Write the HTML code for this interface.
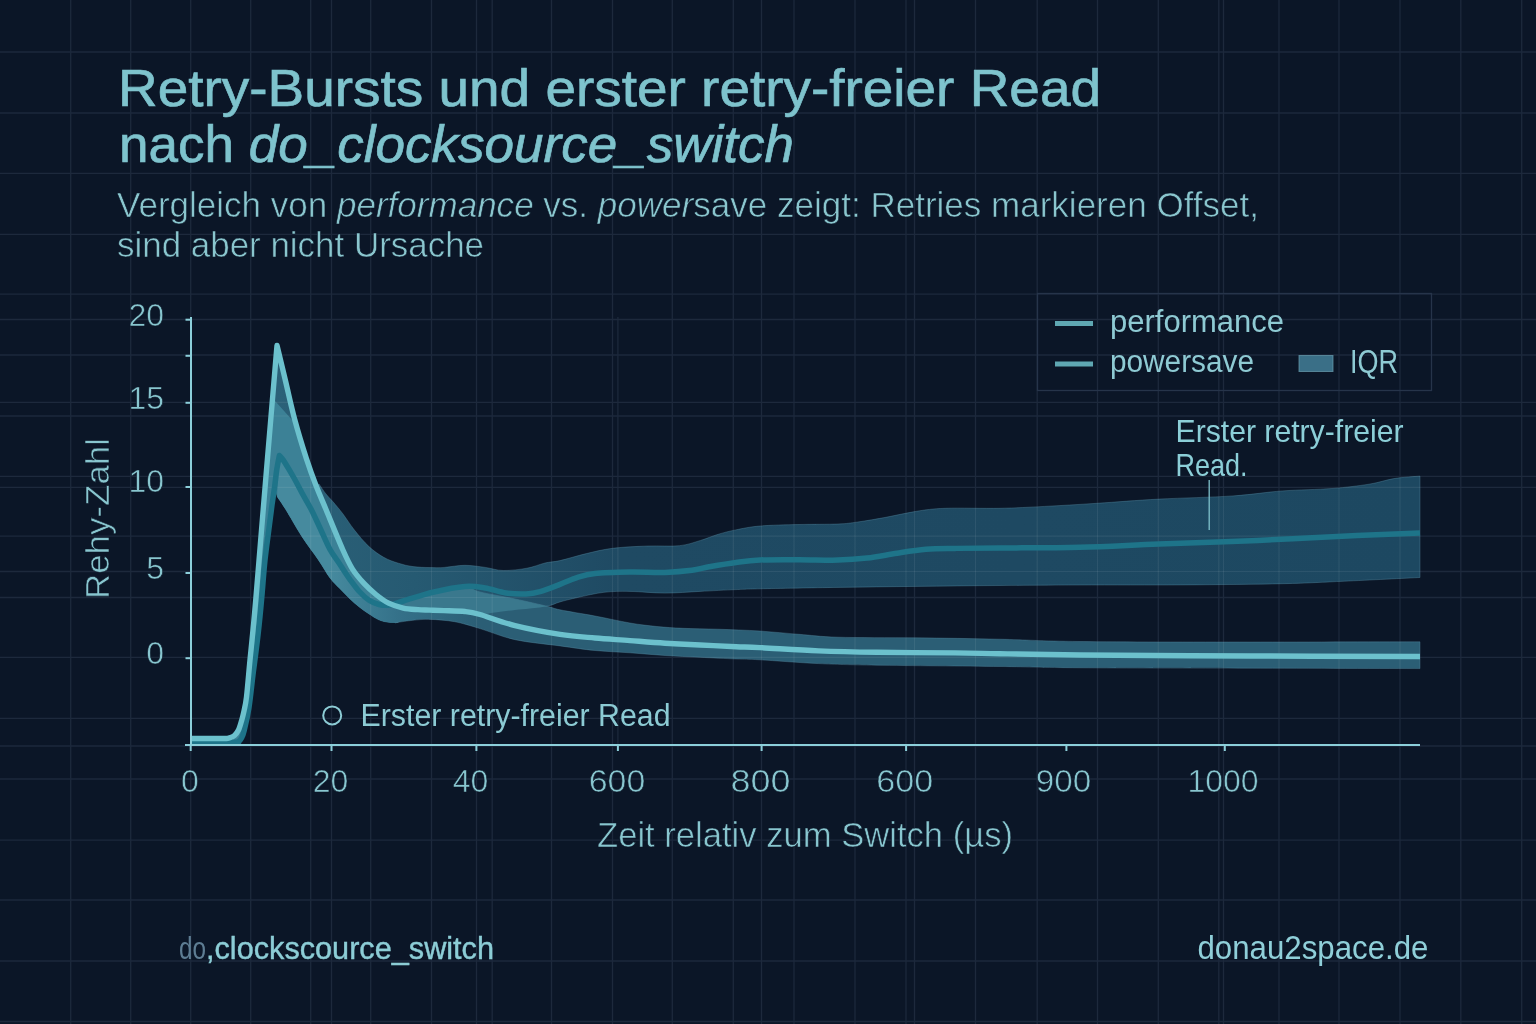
<!DOCTYPE html>
<html><head><meta charset="utf-8"><title>Retry-Bursts</title>
<style>
html,body{margin:0;padding:0;background:#0b1627;}
body{width:1536px;height:1024px;overflow:hidden;}
svg{display:block;}
text{font-family:"Liberation Sans","DejaVu Sans",sans-serif;}
</style></head>
<body>
<svg width="1536" height="1024" viewBox="0 0 1536 1024">
<rect width="1536" height="1024" fill="#0b1627"/>
<g stroke="#1d293c" stroke-width="1.3">
<line x1="70.7" y1="0" x2="70.7" y2="1024"/>
<line x1="130.7" y1="0" x2="130.7" y2="1024"/>
<line x1="190.7" y1="0" x2="190.7" y2="1024"/>
<line x1="250.7" y1="0" x2="250.7" y2="1024"/>
<line x1="310.7" y1="0" x2="310.7" y2="1024"/>
<line x1="370.7" y1="0" x2="370.7" y2="1024"/>
<line x1="431.5" y1="0" x2="431.5" y2="1024"/>
<line x1="492.2" y1="0" x2="492.2" y2="1024"/>
<line x1="551.5" y1="0" x2="551.5" y2="1024"/>
<line x1="612.5" y1="0" x2="612.5" y2="1024"/>
<line x1="672.3" y1="0" x2="672.3" y2="1024"/>
<line x1="733.3" y1="0" x2="733.3" y2="1024"/>
<line x1="794" y1="0" x2="794" y2="1024"/>
<line x1="855" y1="0" x2="855" y2="1024"/>
<line x1="914.5" y1="0" x2="914.5" y2="1024"/>
<line x1="975.5" y1="0" x2="975.5" y2="1024"/>
<line x1="1037.2" y1="0" x2="1037.2" y2="1024"/>
<line x1="1097.5" y1="0" x2="1097.5" y2="1024"/>
<line x1="1158.3" y1="0" x2="1158.3" y2="1024"/>
<line x1="1218.8" y1="0" x2="1218.8" y2="1024"/>
<line x1="1279" y1="0" x2="1279" y2="1024"/>
<line x1="1339" y1="0" x2="1339" y2="1024"/>
<line x1="1400" y1="0" x2="1400" y2="1024"/>
<line x1="1460.8" y1="0" x2="1460.8" y2="1024"/>
<line x1="1521.7" y1="0" x2="1521.7" y2="1024"/>
<line x1="0" y1="52" x2="1536" y2="52"/>
<line x1="0" y1="113" x2="1536" y2="113"/>
<line x1="0" y1="173.4" x2="1536" y2="173.4"/>
<line x1="0" y1="234.4" x2="1536" y2="234.4"/>
<line x1="0" y1="294.2" x2="1536" y2="294.2"/>
<line x1="0" y1="355" x2="1536" y2="355"/>
<line x1="0" y1="416" x2="1536" y2="416"/>
<line x1="0" y1="476.3" x2="1536" y2="476.3"/>
<line x1="0" y1="536.2" x2="1536" y2="536.2"/>
<line x1="0" y1="597.5" x2="1536" y2="597.5"/>
<line x1="0" y1="657.3" x2="1536" y2="657.3"/>
<line x1="0" y1="718.3" x2="1536" y2="718.3"/>
<line x1="0" y1="779" x2="1536" y2="779"/>
<line x1="0" y1="840.2" x2="1536" y2="840.2"/>
<line x1="0" y1="900" x2="1536" y2="900"/>
<line x1="0" y1="961" x2="1536" y2="961"/>
<line x1="0" y1="1021.5" x2="1536" y2="1021.5"/>
<line x1="331.5" y1="0" x2="331.5" y2="1024"/>
<line x1="476.5" y1="0" x2="476.5" y2="1024"/>
<line x1="761.5" y1="0" x2="761.5" y2="1024"/>
<line x1="906" y1="0" x2="906" y2="1024"/>
<line x1="1223.5" y1="0" x2="1223.5" y2="1024"/>
<line x1="617.9" y1="317" x2="617.9" y2="745"/>
<line x1="0" y1="319.5" x2="1536" y2="319.5"/>
<line x1="0" y1="402.3" x2="1536" y2="402.3"/>
<line x1="0" y1="487.4" x2="1536" y2="487.4"/>
<line x1="0" y1="571.5" x2="1536" y2="571.5"/>
<line x1="0" y1="746" x2="1536" y2="746"/>
</g>
<!-- legend box -->
<rect x="1037.5" y="293.5" width="394" height="97" fill="none" stroke="#26344a" stroke-width="1.3"/>
<!-- chart -->

<defs>
  <linearGradient id="ug" x1="277" y1="0" x2="1420" y2="0" gradientUnits="userSpaceOnUse">
    <stop offset="0" stop-color="#2b6178"/>
    <stop offset="0.12" stop-color="#265a72"/>
    <stop offset="0.3" stop-color="#1f4a63"/>
    <stop offset="1" stop-color="#1d4861"/>
  </linearGradient>
  <linearGradient id="lg" x1="395" y1="0" x2="480" y2="0" gradientUnits="userSpaceOnUse">
    <stop offset="0" stop-color="#35728a"/>
    <stop offset="1" stop-color="#2b5e75"/>
  </linearGradient>
  <linearGradient id="dg" x1="330" y1="0" x2="396" y2="0" gradientUnits="userSpaceOnUse">
    <stop offset="0" stop-color="#468a9e"/>
    <stop offset="1" stop-color="#35728a"/>
  </linearGradient>
</defs>
<path d="M277.0,345.5 C278.5,351.8 283.1,370.7 286.0,383.0 C288.9,395.3 291.3,406.9 294.7,419.5 C298.1,432.1 302.8,447.5 306.4,458.6 C310.0,469.7 314.6,481.4 316.2,486.0 L319.0,484.0 C320.2,485.7 323.6,491.0 326.0,494.0 C328.4,497.0 330.4,498.7 333.2,502.0 C336.0,505.3 339.5,509.3 343.0,514.0 C346.5,518.7 350.1,524.6 354.4,530.0 C358.7,535.4 364.1,542.1 369.0,546.6 C373.9,551.1 378.8,554.5 383.7,557.3 C388.6,560.1 393.5,561.7 398.4,563.2 C403.3,564.8 407.7,565.9 413.0,566.6 C418.3,567.3 424.8,567.5 430.0,567.6 C435.2,567.7 438.5,567.8 444.3,567.4 C450.1,567.0 458.0,565.3 464.8,565.3 C471.6,565.3 478.9,566.5 485.3,567.4 C491.7,568.3 496.5,570.4 503.4,570.5 C510.3,570.6 520.0,569.5 526.9,568.2 C533.8,567.0 539.5,564.3 545.0,563.0 C550.5,561.7 553.1,562.2 560.0,560.6 C566.9,559.0 577.6,555.7 586.4,553.6 C595.2,551.5 602.4,549.6 612.7,548.3 C623.0,547.0 636.9,546.4 648.0,546.0 C659.1,545.6 670.7,546.6 679.5,545.7 C688.3,544.8 694.1,542.3 700.6,540.4 C707.1,538.5 712.4,536.0 718.2,534.3 C724.1,532.5 728.7,531.3 735.7,529.9 C742.7,528.5 749.5,526.9 760.0,526.0 C770.5,525.1 786.0,524.8 799.0,524.5 C812.0,524.2 828.2,524.4 838.0,524.0 C847.8,523.6 849.5,523.1 857.7,522.0 C865.9,520.9 877.2,518.9 887.0,517.1 C896.8,515.3 906.5,512.8 916.3,511.3 C926.0,509.8 931.5,508.8 945.5,508.3 C959.5,507.8 983.5,508.6 1000.0,508.3 C1016.5,508.0 1028.4,507.2 1044.6,506.4 C1060.8,505.6 1077.9,504.5 1097.0,503.3 C1116.1,502.1 1136.3,500.3 1159.0,499.1 C1181.7,497.9 1212.4,497.3 1233.0,495.9 C1253.6,494.5 1266.2,492.1 1282.7,490.9 C1299.2,489.7 1317.6,489.6 1332.0,488.5 C1346.4,487.4 1358.7,485.8 1369.0,484.2 C1379.3,482.6 1385.5,480.0 1394.0,478.6 C1402.5,477.2 1415.7,476.5 1420.0,476.1 L1420.0,577.5 L1420.0,577.5 C1407.4,578.1 1367.3,580.2 1344.5,581.2 C1321.7,582.2 1309.8,583.1 1283.0,583.7 C1256.2,584.3 1217.8,584.7 1184.0,584.9 C1150.2,585.1 1110.7,584.9 1080.0,585.0 C1049.3,585.1 1027.3,585.3 1000.0,585.5 C972.7,585.7 943.0,586.1 916.0,586.4 C889.0,586.7 864.0,587.0 838.0,587.4 C812.0,587.8 777.0,588.4 760.0,588.8 C743.0,589.2 746.0,589.2 736.0,589.6 C726.0,590.0 711.8,590.8 700.0,591.4 C688.2,592.0 676.7,593.1 665.0,593.1 C653.3,593.1 640.2,591.5 630.0,591.4 C619.8,591.3 612.7,591.3 604.0,592.3 C595.3,593.3 584.9,595.9 577.6,597.5 C570.3,599.1 564.9,600.5 560.0,601.9 C555.1,603.3 553.0,604.9 548.0,606.0 C543.0,607.1 535.5,608.0 530.0,608.5 C524.5,609.0 523.3,608.9 515.0,609.0 C506.7,609.1 490.0,609.3 480.0,609.0 C470.0,608.7 463.3,607.7 455.0,607.0 C446.7,606.3 438.3,605.4 430.0,605.0 C421.7,604.6 410.8,604.7 405.0,604.5 C399.2,604.3 396.7,604.1 395.0,604.0 L395.0,622.8 L398.4,622.3 C396.8,622.3 391.9,622.7 388.6,622.3 C385.3,621.9 382.1,621.2 378.8,619.8 C375.6,618.4 372.4,616.1 369.1,614.0 C365.9,611.9 362.6,609.7 359.3,607.1 C356.0,604.5 352.8,601.5 349.5,598.4 C346.2,595.3 343.1,592.0 339.8,588.6 C336.6,585.2 333.6,582.8 330.0,578.0 C326.4,573.2 323.1,566.8 318.4,559.9 C313.7,553.0 307.5,545.1 302.0,536.7 C296.5,528.3 289.7,515.9 285.6,509.3 C281.5,502.7 278.8,499.1 277.4,497.0 L277.4,497.0 C276.9,495.3 275.1,488.7 274.6,487.0 L274.6,487.0 C274.2,490.0 273.0,497.8 272.0,505.0 C271.0,512.2 270.0,520.8 268.8,530.0 C267.6,539.2 266.2,548.8 265.0,560.0 C263.8,571.2 262.9,584.7 261.8,597.1 C260.7,609.5 259.5,621.9 258.1,634.3 C256.7,646.7 255.0,659.0 253.4,671.4 C251.8,683.8 250.4,698.6 248.8,708.5 C247.2,718.4 245.3,725.9 244.1,730.8 C242.9,735.7 242.4,736.2 241.5,738.0 C240.6,739.8 239.0,740.9 238.5,741.5 L232.0,741.0 L238.5,730.0 C239.0,728.5 240.6,724.2 241.5,721.0 C242.4,717.8 243.2,715.0 244.0,711.0 C244.8,707.0 245.5,705.5 246.5,697.0 C247.5,688.5 248.9,671.2 250.0,660.0 C251.1,648.8 252.0,640.5 253.0,630.0 C254.0,619.5 253.8,622.7 256.0,597.0 C258.2,571.3 262.5,517.9 266.0,476.0 C269.5,434.1 275.2,367.2 277.0,345.5 Z" fill="url(#ug)" stroke="#5d93a8" stroke-opacity="0.35" stroke-width="1"/>
<path d="M395.0,603.2 C396.4,602.8 396.8,602.9 403.3,601.0 C409.8,599.1 423.7,594.4 434.0,592.0 C444.3,589.6 459.8,587.4 465.0,586.5 L465.0,586.5 C467.5,587.4 471.7,589.9 480.0,592.0 C488.3,594.1 503.7,596.6 515.0,599.0 C526.3,601.4 540.5,604.7 548.0,606.5 C555.5,608.3 552.2,608.2 560.0,609.8 C567.8,611.4 583.3,613.8 595.0,616.0 C606.7,618.2 619.7,621.2 630.0,623.0 C640.3,624.8 648.2,625.6 657.0,626.5 C665.8,627.4 672.8,627.8 683.0,628.3 C693.2,628.8 705.2,628.8 718.0,629.2 C730.8,629.7 746.5,630.1 760.0,631.0 C773.5,631.9 786.0,633.3 799.0,634.3 C812.0,635.3 818.5,636.6 838.0,637.2 C857.5,637.8 889.0,637.5 916.0,637.8 C943.0,638.1 972.7,638.6 1000.0,639.2 C1027.3,639.8 1038.3,641.0 1080.0,641.5 C1121.7,642.0 1193.3,642.0 1250.0,642.0 C1306.7,642.0 1391.7,641.8 1420.0,641.8 L1420.0,668.6 L1420.0,668.6 C1391.7,668.5 1306.7,668.3 1250.0,668.2 C1193.3,668.1 1121.7,668.1 1080.0,667.8 C1038.3,667.5 1033.8,666.9 1000.0,666.5 C966.2,666.1 907.2,665.7 877.0,665.2 C846.8,664.7 838.1,664.5 818.6,663.6 C799.1,662.7 773.8,660.6 760.0,659.8 C746.2,659.0 746.0,659.4 736.0,659.0 C726.0,658.6 711.8,657.9 700.0,657.3 C688.2,656.7 676.7,656.2 665.0,655.5 C653.3,654.8 641.7,653.6 630.0,652.8 C618.3,652.0 606.7,651.6 595.0,650.5 C583.3,649.4 573.3,647.7 560.0,645.9 C546.7,644.1 528.3,642.6 515.0,639.7 C501.7,636.8 490.1,631.6 480.0,628.6 C469.9,625.6 462.8,623.2 454.5,621.7 C446.2,620.2 436.9,619.6 430.0,619.4 C423.1,619.2 418.3,619.8 413.0,620.3 C407.7,620.8 401.4,621.9 398.4,622.3 C395.4,622.7 395.6,622.7 395.0,622.8 Z" fill="url(#lg)" stroke="#5d93a8" stroke-opacity="0.35" stroke-width="1"/>
<path d="M392.0,604.5 C393.9,603.9 396.3,603.1 403.3,601.0 C410.3,598.9 423.7,594.4 434.0,592.0 C444.3,589.6 457.3,586.5 465.0,586.5 C472.7,586.5 471.7,589.9 480.0,592.0 C488.3,594.1 503.7,596.6 515.0,599.0 C526.3,601.4 542.5,605.2 548.0,606.5 L548.0,606.5 C545.0,606.8 535.5,607.9 530.0,608.5 C524.5,609.1 520.8,609.3 515.0,610.0 C509.2,610.7 500.8,611.8 495.0,612.5 C489.2,613.2 485.0,614.7 480.0,614.5 C475.0,614.3 471.0,612.1 465.0,611.5 C459.0,610.9 449.8,610.8 444.0,610.6 C438.2,610.4 434.4,610.3 430.0,610.1 C425.6,609.9 422.4,609.9 417.9,609.6 C413.4,609.3 407.5,609.0 403.2,608.1 C398.9,607.2 393.9,605.1 392.0,604.5 Z" fill="#3a788d"/>
<path d="M271.5,397.0 L298.0,426.5 L298.0,426.5 C299.4,431.9 303.4,448.7 306.4,458.6 C309.4,468.5 312.9,477.5 316.2,486.0 C319.5,494.5 321.6,498.9 326.0,509.5 C330.4,520.1 338.3,539.6 342.7,549.5 C347.1,559.4 348.9,563.4 352.5,569.1 C356.1,574.8 360.3,579.5 364.2,583.7 C368.1,587.9 371.8,591.2 375.9,594.5 C380.0,597.8 385.4,601.6 388.6,603.2 C391.8,604.8 393.9,603.9 395.0,604.0 L395.0,622.8 L398.4,622.3 C396.8,622.3 391.9,622.7 388.6,622.3 C385.3,621.9 382.1,621.2 378.8,619.8 C375.6,618.4 372.4,616.1 369.1,614.0 C365.9,611.9 362.6,609.7 359.3,607.1 C356.0,604.5 352.8,601.5 349.5,598.4 C346.2,595.3 343.1,592.0 339.8,588.6 C336.6,585.2 333.6,582.8 330.0,578.0 C326.4,573.2 323.1,566.8 318.4,559.9 C313.7,553.0 307.5,545.1 302.0,536.7 C296.5,528.3 289.7,515.9 285.6,509.3 C281.5,502.7 278.8,499.1 277.4,497.0 L277.4,497.0 C276.9,495.3 275.1,488.7 274.6,487.0 L274.6,487.0 C274.2,490.0 273.0,497.8 272.0,505.0 C271.0,512.2 270.0,520.8 268.8,530.0 C267.6,539.2 266.2,548.8 265.0,560.0 C263.8,571.2 262.9,584.7 261.8,597.1 C260.7,609.5 259.5,621.9 258.1,634.3 C256.7,646.7 255.0,659.0 253.4,671.4 C251.8,683.8 250.4,698.6 248.8,708.5 C247.2,718.4 245.3,725.9 244.1,730.8 C242.9,735.7 242.4,736.2 241.5,738.0 C240.6,739.8 239.0,740.9 238.5,741.5 L232.0,741.0 L238.5,730.0 C239.0,728.5 240.6,724.2 241.5,721.0 C242.4,717.8 243.2,715.0 244.0,711.0 C244.8,707.0 245.5,705.5 246.5,697.0 C247.5,688.5 248.9,671.2 250.0,660.0 C251.1,648.8 252.0,640.5 253.0,630.0 C254.0,619.5 253.8,622.7 256.0,597.0 C258.2,571.3 263.4,509.3 266.0,476.0 C268.6,442.7 270.6,410.2 271.5,397.0 Z" fill="#3c8196"/>
<path d="M279.4,455.5 C280.2,456.6 282.1,458.2 284.5,462.0 C286.9,465.8 291.1,472.8 294.0,478.0 C296.9,483.2 299.2,487.8 302.0,493.0 C304.8,498.2 308.0,503.2 311.0,509.0 C314.0,514.8 316.8,521.2 320.0,528.0 C323.2,534.8 326.7,543.5 330.0,549.5 C333.3,555.5 336.6,559.3 339.8,564.2 C343.1,569.1 346.2,574.2 349.5,578.8 C352.8,583.3 356.0,587.9 359.3,591.5 C362.6,595.1 365.8,598.1 369.1,600.3 C372.4,602.5 375.5,603.7 379.0,604.5 C382.5,605.3 387.2,605.0 390.0,605.0 C392.8,605.0 395.0,604.7 396.0,604.6 L396.0,622.6 L388.6,622.3 C387.0,621.9 382.1,621.2 378.8,619.8 C375.6,618.4 372.4,616.1 369.1,614.0 C365.9,611.9 362.6,609.7 359.3,607.1 C356.0,604.5 352.8,601.5 349.5,598.4 C346.2,595.3 343.1,592.0 339.8,588.6 C336.6,585.2 333.6,582.8 330.0,578.0 C326.4,573.2 323.1,566.8 318.4,559.9 C313.7,553.0 307.5,545.1 302.0,536.7 C296.5,528.3 289.7,515.9 285.6,509.3 C281.5,502.7 278.8,499.1 277.4,497.0 L278.5,470.0 Z" fill="url(#dg)"/>
<clipPath id="bandclip"><path d="M277.0,345.5 C278.5,351.8 283.1,370.7 286.0,383.0 C288.9,395.3 291.3,406.9 294.7,419.5 C298.1,432.1 302.8,447.5 306.4,458.6 C310.0,469.7 314.6,481.4 316.2,486.0 L319.0,484.0 C320.2,485.7 323.6,491.0 326.0,494.0 C328.4,497.0 330.4,498.7 333.2,502.0 C336.0,505.3 339.5,509.3 343.0,514.0 C346.5,518.7 350.1,524.6 354.4,530.0 C358.7,535.4 364.1,542.1 369.0,546.6 C373.9,551.1 378.8,554.5 383.7,557.3 C388.6,560.1 393.5,561.7 398.4,563.2 C403.3,564.8 407.7,565.9 413.0,566.6 C418.3,567.3 424.8,567.5 430.0,567.6 C435.2,567.7 438.5,567.8 444.3,567.4 C450.1,567.0 458.0,565.3 464.8,565.3 C471.6,565.3 478.9,566.5 485.3,567.4 C491.7,568.3 496.5,570.4 503.4,570.5 C510.3,570.6 520.0,569.5 526.9,568.2 C533.8,567.0 539.5,564.3 545.0,563.0 C550.5,561.7 553.1,562.2 560.0,560.6 C566.9,559.0 577.6,555.7 586.4,553.6 C595.2,551.5 602.4,549.6 612.7,548.3 C623.0,547.0 636.9,546.4 648.0,546.0 C659.1,545.6 670.7,546.6 679.5,545.7 C688.3,544.8 694.1,542.3 700.6,540.4 C707.1,538.5 712.4,536.0 718.2,534.3 C724.1,532.5 728.7,531.3 735.7,529.9 C742.7,528.5 749.5,526.9 760.0,526.0 C770.5,525.1 786.0,524.8 799.0,524.5 C812.0,524.2 828.2,524.4 838.0,524.0 C847.8,523.6 849.5,523.1 857.7,522.0 C865.9,520.9 877.2,518.9 887.0,517.1 C896.8,515.3 906.5,512.8 916.3,511.3 C926.0,509.8 931.5,508.8 945.5,508.3 C959.5,507.8 983.5,508.6 1000.0,508.3 C1016.5,508.0 1028.4,507.2 1044.6,506.4 C1060.8,505.6 1077.9,504.5 1097.0,503.3 C1116.1,502.1 1136.3,500.3 1159.0,499.1 C1181.7,497.9 1212.4,497.3 1233.0,495.9 C1253.6,494.5 1266.2,492.1 1282.7,490.9 C1299.2,489.7 1317.6,489.6 1332.0,488.5 C1346.4,487.4 1358.7,485.8 1369.0,484.2 C1379.3,482.6 1385.5,480.0 1394.0,478.6 C1402.5,477.2 1415.7,476.5 1420.0,476.1 L1420.0,577.5 L1420.0,577.5 C1407.4,578.1 1367.3,580.2 1344.5,581.2 C1321.7,582.2 1309.8,583.1 1283.0,583.7 C1256.2,584.3 1217.8,584.7 1184.0,584.9 C1150.2,585.1 1110.7,584.9 1080.0,585.0 C1049.3,585.1 1027.3,585.3 1000.0,585.5 C972.7,585.7 943.0,586.1 916.0,586.4 C889.0,586.7 864.0,587.0 838.0,587.4 C812.0,587.8 777.0,588.4 760.0,588.8 C743.0,589.2 746.0,589.2 736.0,589.6 C726.0,590.0 711.8,590.8 700.0,591.4 C688.2,592.0 676.7,593.1 665.0,593.1 C653.3,593.1 640.2,591.5 630.0,591.4 C619.8,591.3 612.7,591.3 604.0,592.3 C595.3,593.3 584.9,595.9 577.6,597.5 C570.3,599.1 564.9,600.5 560.0,601.9 C555.1,603.3 553.0,604.9 548.0,606.0 C543.0,607.1 535.5,608.0 530.0,608.5 C524.5,609.0 523.3,608.9 515.0,609.0 C506.7,609.1 490.0,609.3 480.0,609.0 C470.0,608.7 463.3,607.7 455.0,607.0 C446.7,606.3 438.3,605.4 430.0,605.0 C421.7,604.6 410.8,604.7 405.0,604.5 C399.2,604.3 396.7,604.1 395.0,604.0 L395.0,622.8 L398.4,622.3 C396.8,622.3 391.9,622.7 388.6,622.3 C385.3,621.9 382.1,621.2 378.8,619.8 C375.6,618.4 372.4,616.1 369.1,614.0 C365.9,611.9 362.6,609.7 359.3,607.1 C356.0,604.5 352.8,601.5 349.5,598.4 C346.2,595.3 343.1,592.0 339.8,588.6 C336.6,585.2 333.6,582.8 330.0,578.0 C326.4,573.2 323.1,566.8 318.4,559.9 C313.7,553.0 307.5,545.1 302.0,536.7 C296.5,528.3 289.7,515.9 285.6,509.3 C281.5,502.7 278.8,499.1 277.4,497.0 L277.4,497.0 C276.9,495.3 275.1,488.7 274.6,487.0 L274.6,487.0 C274.2,490.0 273.0,497.8 272.0,505.0 C271.0,512.2 270.0,520.8 268.8,530.0 C267.6,539.2 266.2,548.8 265.0,560.0 C263.8,571.2 262.9,584.7 261.8,597.1 C260.7,609.5 259.5,621.9 258.1,634.3 C256.7,646.7 255.0,659.0 253.4,671.4 C251.8,683.8 250.4,698.6 248.8,708.5 C247.2,718.4 245.3,725.9 244.1,730.8 C242.9,735.7 242.4,736.2 241.5,738.0 C240.6,739.8 239.0,740.9 238.5,741.5 L232.0,741.0 L238.5,730.0 C239.0,728.5 240.6,724.2 241.5,721.0 C242.4,717.8 243.2,715.0 244.0,711.0 C244.8,707.0 245.5,705.5 246.5,697.0 C247.5,688.5 248.9,671.2 250.0,660.0 C251.1,648.8 252.0,640.5 253.0,630.0 C254.0,619.5 253.8,622.7 256.0,597.0 C258.2,571.3 262.5,517.9 266.0,476.0 C269.5,434.1 275.2,367.2 277.0,345.5 Z"/><path d="M395.0,603.2 C396.4,602.8 396.8,602.9 403.3,601.0 C409.8,599.1 423.7,594.4 434.0,592.0 C444.3,589.6 459.8,587.4 465.0,586.5 L465.0,586.5 C467.5,587.4 471.7,589.9 480.0,592.0 C488.3,594.1 503.7,596.6 515.0,599.0 C526.3,601.4 540.5,604.7 548.0,606.5 C555.5,608.3 552.2,608.2 560.0,609.8 C567.8,611.4 583.3,613.8 595.0,616.0 C606.7,618.2 619.7,621.2 630.0,623.0 C640.3,624.8 648.2,625.6 657.0,626.5 C665.8,627.4 672.8,627.8 683.0,628.3 C693.2,628.8 705.2,628.8 718.0,629.2 C730.8,629.7 746.5,630.1 760.0,631.0 C773.5,631.9 786.0,633.3 799.0,634.3 C812.0,635.3 818.5,636.6 838.0,637.2 C857.5,637.8 889.0,637.5 916.0,637.8 C943.0,638.1 972.7,638.6 1000.0,639.2 C1027.3,639.8 1038.3,641.0 1080.0,641.5 C1121.7,642.0 1193.3,642.0 1250.0,642.0 C1306.7,642.0 1391.7,641.8 1420.0,641.8 L1420.0,668.6 L1420.0,668.6 C1391.7,668.5 1306.7,668.3 1250.0,668.2 C1193.3,668.1 1121.7,668.1 1080.0,667.8 C1038.3,667.5 1033.8,666.9 1000.0,666.5 C966.2,666.1 907.2,665.7 877.0,665.2 C846.8,664.7 838.1,664.5 818.6,663.6 C799.1,662.7 773.8,660.6 760.0,659.8 C746.2,659.0 746.0,659.4 736.0,659.0 C726.0,658.6 711.8,657.9 700.0,657.3 C688.2,656.7 676.7,656.2 665.0,655.5 C653.3,654.8 641.7,653.6 630.0,652.8 C618.3,652.0 606.7,651.6 595.0,650.5 C583.3,649.4 573.3,647.7 560.0,645.9 C546.7,644.1 528.3,642.6 515.0,639.7 C501.7,636.8 490.1,631.6 480.0,628.6 C469.9,625.6 462.8,623.2 454.5,621.7 C446.2,620.2 436.9,619.6 430.0,619.4 C423.1,619.2 418.3,619.8 413.0,620.3 C407.7,620.8 401.4,621.9 398.4,622.3 C395.4,622.7 395.6,622.7 395.0,622.8 Z"/></clipPath>
<g clip-path="url(#bandclip)" stroke="#ffffff" stroke-opacity="0.07" stroke-width="1.2">
<line x1="70.7" y1="0" x2="70.7" y2="1024"/>
<line x1="130.7" y1="0" x2="130.7" y2="1024"/>
<line x1="190.7" y1="0" x2="190.7" y2="1024"/>
<line x1="250.7" y1="0" x2="250.7" y2="1024"/>
<line x1="310.7" y1="0" x2="310.7" y2="1024"/>
<line x1="370.7" y1="0" x2="370.7" y2="1024"/>
<line x1="431.5" y1="0" x2="431.5" y2="1024"/>
<line x1="492.2" y1="0" x2="492.2" y2="1024"/>
<line x1="551.5" y1="0" x2="551.5" y2="1024"/>
<line x1="612.5" y1="0" x2="612.5" y2="1024"/>
<line x1="672.3" y1="0" x2="672.3" y2="1024"/>
<line x1="733.3" y1="0" x2="733.3" y2="1024"/>
<line x1="794" y1="0" x2="794" y2="1024"/>
<line x1="855" y1="0" x2="855" y2="1024"/>
<line x1="914.5" y1="0" x2="914.5" y2="1024"/>
<line x1="975.5" y1="0" x2="975.5" y2="1024"/>
<line x1="1037.2" y1="0" x2="1037.2" y2="1024"/>
<line x1="1097.5" y1="0" x2="1097.5" y2="1024"/>
<line x1="1158.3" y1="0" x2="1158.3" y2="1024"/>
<line x1="1218.8" y1="0" x2="1218.8" y2="1024"/>
<line x1="1279" y1="0" x2="1279" y2="1024"/>
<line x1="1339" y1="0" x2="1339" y2="1024"/>
<line x1="1400" y1="0" x2="1400" y2="1024"/>
<line x1="1460.8" y1="0" x2="1460.8" y2="1024"/>
<line x1="1521.7" y1="0" x2="1521.7" y2="1024"/>
<line x1="0" y1="52" x2="1536" y2="52"/>
<line x1="0" y1="113" x2="1536" y2="113"/>
<line x1="0" y1="173.4" x2="1536" y2="173.4"/>
<line x1="0" y1="234.4" x2="1536" y2="234.4"/>
<line x1="0" y1="294.2" x2="1536" y2="294.2"/>
<line x1="0" y1="355" x2="1536" y2="355"/>
<line x1="0" y1="416" x2="1536" y2="416"/>
<line x1="0" y1="476.3" x2="1536" y2="476.3"/>
<line x1="0" y1="536.2" x2="1536" y2="536.2"/>
<line x1="0" y1="597.5" x2="1536" y2="597.5"/>
<line x1="0" y1="657.3" x2="1536" y2="657.3"/>
<line x1="0" y1="718.3" x2="1536" y2="718.3"/>
<line x1="0" y1="779" x2="1536" y2="779"/>
<line x1="0" y1="840.2" x2="1536" y2="840.2"/>
<line x1="0" y1="900" x2="1536" y2="900"/>
<line x1="0" y1="961" x2="1536" y2="961"/>
<line x1="0" y1="1021.5" x2="1536" y2="1021.5"/>
<line x1="331.5" y1="0" x2="331.5" y2="1024"/>
<line x1="476.5" y1="0" x2="476.5" y2="1024"/>
<line x1="761.5" y1="0" x2="761.5" y2="1024"/>
<line x1="906" y1="0" x2="906" y2="1024"/>
<line x1="1223.5" y1="0" x2="1223.5" y2="1024"/>
<line x1="617.9" y1="317" x2="617.9" y2="745"/>
<line x1="0" y1="319.5" x2="1536" y2="319.5"/>
<line x1="0" y1="402.3" x2="1536" y2="402.3"/>
<line x1="0" y1="487.4" x2="1536" y2="487.4"/>
<line x1="0" y1="571.5" x2="1536" y2="571.5"/>
<line x1="0" y1="746" x2="1536" y2="746"/>
</g>
<path d="M191.0,742.3 C198.2,742.3 226.1,742.4 234.0,742.3 C241.9,742.2 237.2,742.2 238.5,741.5 C239.8,740.8 240.6,739.8 241.5,738.0 C242.4,736.2 242.9,735.7 244.1,730.8 C245.3,725.9 247.2,718.4 248.8,708.5 C250.4,698.6 251.8,683.8 253.4,671.4 C255.0,659.0 256.7,646.7 258.1,634.3 C259.5,621.9 260.7,609.5 261.8,597.1 C262.9,584.7 263.8,571.2 265.0,560.0 C266.2,548.8 267.6,539.2 268.8,530.0 C270.0,520.8 271.0,512.2 272.0,505.0 C273.0,497.8 273.8,492.8 274.6,487.0 C275.4,481.2 275.9,475.2 276.7,470.0 C277.5,464.8 278.9,457.9 279.4,455.5 L279.4,455.5 C280.2,456.6 282.1,458.2 284.5,462.0 C286.9,465.8 291.1,472.8 294.0,478.0 C296.9,483.2 299.2,487.8 302.0,493.0 C304.8,498.2 308.0,503.2 311.0,509.0 C314.0,514.8 316.8,521.2 320.0,528.0 C323.2,534.8 326.7,543.5 330.0,549.5 C333.3,555.5 336.6,559.3 339.8,564.2 C343.1,569.1 346.2,574.2 349.5,578.8 C352.8,583.3 356.0,587.9 359.3,591.5 C362.6,595.1 365.8,598.1 369.1,600.3 C372.4,602.5 375.5,603.7 379.0,604.5 C382.5,605.3 385.9,605.6 390.0,605.0 C394.1,604.4 396.0,603.2 403.3,601.0 C410.6,598.8 423.7,594.4 434.0,592.0 C444.3,589.6 456.5,587.2 465.0,586.5 C473.5,585.8 478.2,586.9 485.0,588.0 C491.8,589.1 499.2,592.0 506.0,593.0 C512.8,594.0 520.3,594.2 526.0,594.0 C531.7,593.8 534.3,593.3 540.0,591.7 C545.7,590.1 553.7,586.8 560.0,584.4 C566.3,582.0 571.8,579.1 577.6,577.3 C583.4,575.5 586.3,574.4 595.0,573.5 C603.7,572.6 618.3,572.3 630.0,572.1 C641.7,571.9 654.7,572.7 665.0,572.4 C675.3,572.1 684.7,571.2 692.0,570.3 C699.3,569.4 701.7,568.1 709.0,566.8 C716.3,565.5 727.5,563.5 736.0,562.4 C744.5,561.3 749.5,560.5 760.0,560.0 C770.5,559.5 786.0,559.7 799.0,559.7 C812.0,559.7 826.7,560.4 838.0,560.1 C849.3,559.8 857.2,559.2 867.0,558.1 C876.8,557.0 887.2,554.7 897.0,553.2 C906.8,551.7 916.3,550.1 926.0,549.3 C935.7,548.5 942.7,548.6 955.0,548.4 C967.3,548.2 979.2,548.2 1000.0,548.0 C1020.8,547.8 1053.5,547.9 1080.0,547.2 C1106.5,546.6 1129.3,545.2 1159.0,544.1 C1188.7,543.0 1225.0,541.8 1258.0,540.4 C1291.0,539.0 1330.0,536.7 1357.0,535.5 C1384.0,534.3 1409.5,533.4 1420.0,533.0" fill="none" stroke="#1e7489" stroke-width="5.5" stroke-linejoin="round" stroke-linecap="butt"/>
<path d="M191.0,738.5 C196.2,738.5 215.6,738.6 222.0,738.5 C228.4,738.4 227.4,738.3 229.5,737.8 C231.6,737.3 233.0,736.8 234.5,735.5 C236.0,734.2 237.3,732.4 238.5,730.0 C239.7,727.6 240.6,724.2 241.5,721.0 C242.4,717.8 243.2,715.0 244.0,711.0 C244.8,707.0 245.5,705.5 246.5,697.0 C247.5,688.5 248.9,671.2 250.0,660.0 C251.1,648.8 252.0,640.5 253.0,630.0 C254.0,619.5 253.8,622.7 256.0,597.0 C258.2,571.3 262.5,517.9 266.0,476.0 C269.5,434.1 275.2,367.2 277.0,345.5 L277.0,345.5 C278.5,351.8 283.1,370.7 286.0,383.0 C288.9,395.3 291.3,406.9 294.7,419.5 C298.1,432.1 302.8,447.5 306.4,458.6 C310.0,469.7 312.9,477.5 316.2,486.0 C319.5,494.5 321.6,498.9 326.0,509.5 C330.4,520.1 338.3,539.6 342.7,549.5 C347.1,559.4 348.9,563.4 352.5,569.1 C356.1,574.8 360.3,579.5 364.2,583.7 C368.1,587.9 371.8,591.2 375.9,594.5 C380.0,597.8 384.1,600.9 388.6,603.2 C393.2,605.5 398.3,607.0 403.2,608.1 C408.1,609.2 413.4,609.3 417.9,609.6 C422.4,609.9 425.6,609.9 430.0,610.1 C434.4,610.3 438.2,610.4 444.0,610.6 C449.8,610.8 459.0,610.9 465.0,611.5 C471.0,612.1 471.7,612.1 480.0,614.5 C488.3,616.9 501.7,622.3 515.0,625.6 C528.3,628.9 546.7,632.3 560.0,634.4 C573.3,636.5 583.3,637.0 595.0,638.0 C606.7,639.0 618.3,639.7 630.0,640.6 C641.7,641.5 653.3,642.5 665.0,643.2 C676.7,643.9 688.2,644.4 700.0,645.0 C711.8,645.6 726.0,646.3 736.0,646.7 C746.0,647.1 746.2,646.9 760.0,647.6 C773.8,648.3 799.1,650.1 818.6,650.9 C838.1,651.7 854.3,652.0 877.0,652.3 C899.7,652.6 934.5,652.6 955.0,652.9 C975.5,653.1 979.2,653.4 1000.0,653.8 C1020.8,654.1 1038.3,654.6 1080.0,655.0 C1121.7,655.4 1193.3,655.8 1250.0,656.0 C1306.7,656.2 1391.7,656.4 1420.0,656.5" fill="none" stroke="#6cc1cd" stroke-width="5.4" stroke-linejoin="round" stroke-linecap="butt"/>

<!-- axes -->
<g stroke="#8ccfda" stroke-width="2" fill="none">
  <line x1="191" y1="317" x2="191" y2="746"/>
  <line x1="185" y1="745" x2="1420" y2="745"/>
  <line x1="185.5" y1="319.7" x2="191" y2="319.7"/>
  <line x1="185.5" y1="355.8" x2="191" y2="355.8"/>
  <line x1="185.5" y1="402.8" x2="191" y2="402.8"/>
  <line x1="185.5" y1="487" x2="191" y2="487"/>
  <line x1="185.5" y1="573" x2="191" y2="573"/>
  <line x1="185.5" y1="658.2" x2="191" y2="658.2"/>
  <line x1="190.7" y1="745" x2="190.7" y2="751"/>
  <line x1="331.5" y1="745" x2="331.5" y2="751"/>
  <line x1="476.4" y1="745" x2="476.4" y2="751"/>
  <line x1="617.9" y1="745" x2="617.9" y2="751"/>
  <line x1="761.6" y1="745" x2="761.6" y2="751"/>
  <line x1="906.1" y1="745" x2="906.1" y2="751"/>
  <line x1="1066.4" y1="745" x2="1066.4" y2="751"/>
  <line x1="1224.8" y1="745" x2="1224.8" y2="751"/>
</g>
<!-- annotation line -->
<line x1="1209.2" y1="480" x2="1209.2" y2="530" stroke="#7fc2cc" stroke-width="1.3"/>

<!-- TEXT -->
<g fill="#7ec3cd" stroke="#7ec3cd" stroke-width="0.65">
<text x="118" y="106" font-size="52" textLength="983" lengthAdjust="spacingAndGlyphs">Retry-Bursts und erster retry-freier Read</text>
<text x="119" y="162" font-size="52" textLength="675" lengthAdjust="spacingAndGlyphs">nach <tspan font-style="italic">do_clocksource_switch</tspan></text>
</g>
<g fill="#8ac6ce" stroke="#0b1627" stroke-width="0.6">
<text x="117" y="216.5" font-size="35.5" textLength="1142" lengthAdjust="spacingAndGlyphs">Vergleich von <tspan font-style="italic">performance</tspan> vs. <tspan font-style="italic">power</tspan>save zeigt: Retries markieren Offset,</text>
<text x="117" y="256.8" font-size="35.5" textLength="367" lengthAdjust="spacingAndGlyphs">sind aber nicht Ursache</text>
</g>
<!-- y tick labels -->
<g fill="#88c6cf" font-size="32" text-anchor="end" stroke="#0b1627" stroke-width="0.6">
<text x="164" y="326">20</text>
<text x="164" y="409">15</text>
<text x="164" y="492">10</text>
<text x="164" y="579">5</text>
<text x="164" y="663.5">0</text>
</g>
<text transform="translate(108.5,599) rotate(-90)" fill="#88c6cf" stroke="#0b1627" stroke-width="0.6" font-size="33" textLength="161" lengthAdjust="spacingAndGlyphs">Rehy-Zahl</text>
<!-- x tick labels -->
<g fill="#88c6cf" font-size="32" text-anchor="middle" stroke="#0b1627" stroke-width="0.6">
<text x="190" y="792">0</text>
<text x="330.5" y="792">20</text>
<text x="470.5" y="792">40</text>
<text x="617" y="792" textLength="56.5" lengthAdjust="spacingAndGlyphs">600</text>
<text x="760.5" y="792" textLength="60" lengthAdjust="spacingAndGlyphs">800</text>
<text x="904.7" y="792" textLength="57" lengthAdjust="spacingAndGlyphs">600</text>
<text x="1063.5" y="792" textLength="55.5" lengthAdjust="spacingAndGlyphs">900</text>
<text x="1223" y="792">1000</text>
</g>
<text x="597" y="847" fill="#88c6cf" stroke="#0b1627" stroke-width="0.6" font-size="34.5" textLength="416" lengthAdjust="spacingAndGlyphs">Zeit relativ zum Switch (µs)</text>
<!-- annotation bottom -->
<circle cx="332.2" cy="715.4" r="9" fill="none" stroke="#8ccbd4" stroke-width="2"/>
<text x="360.5" y="726.2" fill="#8ccbd4" font-size="31" textLength="310" lengthAdjust="spacingAndGlyphs">Erster retry-freier Read</text>
<!-- annotation top right -->
<g fill="#8ccfd8" font-size="30.5">
<text x="1175.5" y="441.6" textLength="228" lengthAdjust="spacingAndGlyphs">Erster retry-freier</text>
<text x="1175.5" y="476.2" textLength="72" lengthAdjust="spacingAndGlyphs">Read.</text>
</g>
<!-- legend -->
<g stroke="#5fa7b2" stroke-width="5">
<line x1="1055" y1="323.4" x2="1093" y2="323.4"/>
<line x1="1055" y1="364" x2="1093" y2="364"/>
</g>
<rect x="1299" y="355.5" width="34" height="16" fill="#3a6f87" stroke="#6a9fb1" stroke-opacity="0.7" stroke-width="1"/>
<g fill="#8ecad3" font-size="31">
<text x="1110" y="331.8" textLength="174" lengthAdjust="spacingAndGlyphs">performance</text>
<text x="1110" y="372.4" textLength="144" lengthAdjust="spacingAndGlyphs">powersave</text>
<text x="1350" y="373" font-size="34" textLength="48" lengthAdjust="spacingAndGlyphs">IQR</text>
</g>
<!-- footer -->
<text x="179" y="958.7" font-size="31" fill="#5e7d93" textLength="27" lengthAdjust="spacingAndGlyphs">do</text>
<text x="206" y="958.7" font-size="31" fill="#8ccdd6" stroke="#8ccdd6" stroke-width="0.4" textLength="288" lengthAdjust="spacingAndGlyphs">,clockscource_switch</text>
<text x="1197.5" y="958.9" fill="#8fcfd9" font-size="32.5" textLength="231" lengthAdjust="spacingAndGlyphs">donau2space.de</text>
</svg>
</body></html>
